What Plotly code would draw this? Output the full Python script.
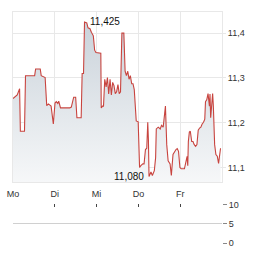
import plotly.graph_objects as go

# time in trading days (0 = Monday open), price in EUR
t = [0, 0.101, 0.158, 0.176, 0.275, 0.299, 0.518, 0.541, 0.652, 0.675, 0.769, 0.807, 0.847, 0.911, 0.965,
     1.005, 1.035, 1.071, 1.094, 1.136, 1.358, 1.395, 1.452, 1.499, 1.529, 1.631, 1.654, 1.687, 1.711, 1.765,
     1.795, 1.842, 1.875, 1.922, 1.953, 1.984, 2.101, 2.111, 2.141, 2.165, 2.195, 2.228, 2.259, 2.289, 2.322,
     2.353, 2.384, 2.416, 2.447, 2.478, 2.511, 2.541, 2.572, 2.605, 2.652, 2.682, 2.713, 2.746, 2.776, 2.807,
     2.840, 2.871, 2.901, 2.934, 2.948, 2.995, 3.028, 3.059, 3.106, 3.136, 3.169, 3.200, 3.224, 3.240, 3.254,
     3.301, 3.334, 3.381, 3.412, 3.428, 3.475, 3.522, 3.553, 3.593, 3.616, 3.647, 3.678, 3.711, 3.758, 3.788,
     3.828, 3.866, 3.899, 3.929, 3.960, 3.993, 4.024, 4.101, 4.141, 4.165, 4.181, 4.195, 4.219, 4.242, 4.275,
     4.306, 4.336, 4.369, 4.400, 4.431, 4.464, 4.494, 4.525, 4.558, 4.588, 4.605, 4.635, 4.666, 4.699, 4.713,
     4.729, 4.753, 4.776, 4.793, 4.824, 4.854, 4.887, 4.918, 4.941, 4.965]
price = [11.254, 11.262, 11.276, 11.181, 11.181, 11.305, 11.305, 11.320, 11.320, 11.305, 11.301, 11.238, 11.242, 11.237, 11.197,
         11.244, 11.247, 11.243, 11.248, 11.233, 11.233, 11.235, 11.257, 11.257, 11.211, 11.211, 11.310, 11.310, 11.425, 11.423,
         11.412, 11.410, 11.402, 11.394, 11.362, 11.357, 11.355, 11.233, 11.237, 11.237, 11.297, 11.280, 11.301, 11.264, 11.297,
         11.262, 11.290, 11.283, 11.265, 11.269, 11.285, 11.265, 11.269, 11.400, 11.400, 11.315, 11.305, 11.315, 11.297, 11.305,
         11.287, 11.287, 11.274, 11.237, 11.204, 11.202, 11.100, 11.104, 11.108, 11.108, 11.140, 11.143, 11.201, 11.161, 11.080,
         11.090, 11.082, 11.093, 11.122, 11.186, 11.190, 11.186, 11.194, 11.190, 11.215, 11.237, 11.151, 11.115, 11.108, 11.082,
         11.129, 11.136, 11.140, 11.142, 11.136, 11.100, 11.097, 11.097, 11.115, 11.125, 11.104, 11.158, 11.179, 11.181, 11.158,
         11.158, 11.151, 11.147, 11.151, 11.183, 11.188, 11.190, 11.197, 11.201, 11.208, 11.247, 11.251, 11.265, 11.237, 11.264,
         11.211, 11.237, 11.265, 11.237, 11.151, 11.129, 11.125, 11.109, 11.125, 11.143]

day_pos = [0, 1, 2, 3, 4]
day_labels = ["Mo", "Di", "Mi", "Do", "Fr"]
price_ticks = [11.1, 11.2, 11.3, 11.4]
vol_ticks = [0, 5, 10]

hi_val, hi_t = 11.425, 1.711
lo_val, lo_t = 11.080, 3.254

FONT = "Liberation Sans, Arial, sans-serif"

fig = go.Figure()
fig.add_trace(go.Scatter(
    x=t, y=price, mode="lines",
    line=dict(color="#c8443f", width=1.1),
    fill="tozeroy",
    fillgradient=dict(type="vertical", start=11.066, stop=11.44,
                      colorscale=[[0, "#f8f9fa"], [1, "#c8d1d9"]]),
    hoverinfo="skip", xaxis="x", yaxis="y",
))
# empty volume pane
fig.add_trace(go.Scatter(x=[0, 5], y=[None, None], mode="lines", xaxis="x2", yaxis="y2",
                         showlegend=False, hoverinfo="skip"))

fig.add_annotation(x=hi_t, y=hi_val, text="11,425", showarrow=False, xanchor="left", yanchor="middle",
                   xshift=3, font=dict(family=FONT, size=10, color="#111"), xref="x", yref="y")
fig.add_annotation(x=lo_t, y=lo_val, text="11,080", showarrow=False, xanchor="right", yanchor="middle",
                   xshift=-3, font=dict(family=FONT, size=10, color="#111"), xref="x", yref="y")

grid = "#e8e8e8"
fig.update_layout(
    width=264, height=255,
    margin=dict(l=9, r=42, t=7, b=8),
    paper_bgcolor="white", plot_bgcolor="white",
    showlegend=False,
    separators=",.",
    font=dict(family=FONT, size=9, color="#333"),
    xaxis=dict(domain=[0, 1], range=[0, 5], tickvals=day_pos, ticktext=day_labels,
               showgrid=True, gridcolor=grid, gridwidth=1, zeroline=False,
               showline=True, linecolor=grid, mirror=True,
               ticks="outside", ticklen=3, tickcolor="rgba(0,0,0,0)",
               tickfont=dict(size=9, color="#333"), anchor="y"),
    yaxis=dict(domain=[0.2625, 1], range=[11.0667, 11.4473], side="right",
               tickvals=price_ticks, tickformat=".1f",
               showgrid=True, gridcolor=grid, zeroline=False,
               showline=True, linecolor=grid, mirror=True,
               ticks="outside", ticklen=3, tickcolor=grid,
               tickfont=dict(size=9, color="#333"), anchor="x"),
    xaxis2=dict(domain=[0, 1], range=[0, 5], tickvals=day_pos, showticklabels=False,
                side="top", ticks="inside", ticklen=3, tickcolor="#444",
                showgrid=False, zeroline=False, showline=False, anchor="y2"),
    yaxis2=dict(domain=[0, 0.1667], range=[0, 10], side="right", tickvals=vol_ticks,
                showgrid=True, gridcolor="#d0d0d0", zeroline=False, showline=False,
                ticks="outside", ticklen=4, tickcolor="#888",
                tickfont=dict(size=9, color="#333"), anchor="x2"),
)

fig.write_html("out.html")
